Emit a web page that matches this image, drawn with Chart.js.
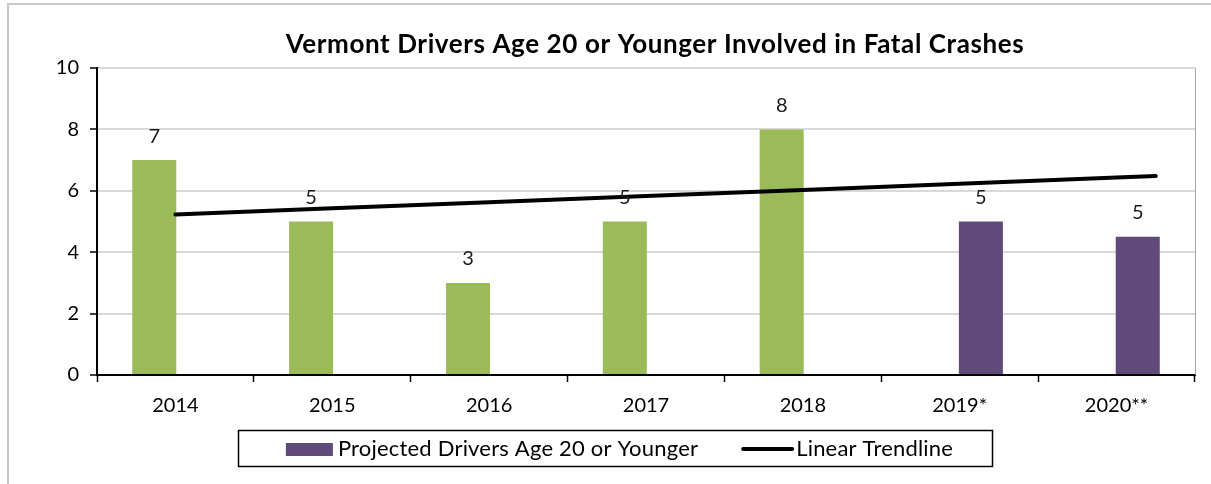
<!DOCTYPE html>
<html>
<head>
<meta charset="utf-8">
<script src="https://cdn.jsdelivr.net/npm/chart.js@4/dist/chart.umd.min.js"></script>
<style>
  html, body { margin: 0; padding: 0; background: #fff; }
  #wrap { position: relative; width: 1211px; height: 484px; }
</style>
</head>
<body>
<div id="wrap"><canvas id="fatalChart" width="1211" height="484"></canvas></div>
<script>
// valores
const years = ["2014", "2015", "2016", "2017", "2018", "2019*", "2020**"];
const yearIndex = [0, 1, 2, 3, 4, 5, 6];
const actualDrivers = [7, 5, 3, 5, 8, null, null];
const projectedDrivers = [null, null, null, null, null, 5, 4.5];
const barLabels = ["7", "5", "3", "5", "8", "5", "5"];
// linha de tendência (o Excel a estende um quarto de período após 2020)
const trendX = [0, 1, 2, 3, 4, 5, 6, 6.25];
const trendline = [5.23, 5.43, 5.63, 5.83, 6.03, 6.23, 6.43, 6.48];
const yTicks = [0, 2, 4, 6, 8, 10];

const chartTitle = "Vermont Drivers Age 20 or Younger Involved in Fatal Crashes";
const legendBar = "Projected Drivers Age 20 or Younger";
const legendLine = "Linear Trendline";
const fontFamily = "Lato, 'Open Sans', sans-serif";

const decorPlugin = {
    id: "decor",
    beforeDraw(chart) {
        const c = chart.ctx;
        c.save();
        c.strokeStyle = "#c8c8c8";
        c.lineWidth = 2;
        c.beginPath();
        c.moveTo(8, 484);
        c.lineTo(8, 4);
        c.lineTo(1211, 4);
        c.stroke();
        c.restore();
    },
    afterDatasetsDraw(chart) {
        const c = chart.ctx;
        const area = chart.chartArea;
        c.save();
        // borda direita da área de plotagem
        c.strokeStyle = "#a6a6a6";
        c.lineWidth = 1;
        c.beginPath();
        c.moveTo(Math.round(area.right) + 0.5, area.top);
        c.lineTo(Math.round(area.right) + 0.5, area.bottom);
        c.stroke();

        // rótulos das barras
        c.font = "20px " + fontFamily;
        c.fillStyle = "#1a1a1a";
        c.textAlign = "center";
        c.textBaseline = "middle";
        [0, 1].forEach(dsIndex => {
            const meta = chart.getDatasetMeta(dsIndex);
            meta.data.forEach((bar, i) => {
                const v = chart.data.datasets[dsIndex].data[i].y;
                if (v === null || v === undefined) return;
                c.fillText(barLabels[i], bar.x, bar.y - 24);
            });
        });

        // título
        c.font = "bold 26px " + fontFamily;
        c.letterSpacing = "0.6px";
        c.fillStyle = "#000";
        c.fillText(chartTitle, (area.left + area.right) / 2 + 9, 45);

        // legenda
        c.font = "22px " + fontFamily;
        c.letterSpacing = "0.2px";
        c.textAlign = "left";
        const w1 = c.measureText(legendBar).width;
        const w2 = c.measureText(legendLine).width;
        const total = 47 + 5 + w1 + 45 + 49 + 4 + w2;
        let x = 615 - (48 + total + 39) / 2 + 48;
        const cy = 449;
        c.strokeStyle = "#000";
        c.lineWidth = 1.5;
        c.strokeRect(Math.round(x - 48) + 0.5, 430.5, Math.round(total + 87), 36);
        c.fillStyle = chart.data.datasets[1].backgroundColor;
        c.fillRect(x, cy - 6, 47, 13);
        x += 52;
        c.fillStyle = "#000";
        c.fillText(legendBar, x, cy);
        x += w1 + 45;
        c.lineWidth = 4;
        c.lineCap = "round";
        c.beginPath();
        c.moveTo(x, cy);
        c.lineTo(x + 49, cy);
        c.stroke();
        x += 53;
        c.fillText(legendLine, x, cy);
        c.restore();
    }
};

const ctx = document.getElementById("fatalChart").getContext("2d");

new Chart(ctx, {
    type: "bar",
    data: {
        datasets: [
            {
                label: "Drivers Age 20 or Younger",
                data: yearIndex.map(i => ({ x: i, y: actualDrivers[i] })),
                backgroundColor: "#9BBB59",
                categoryPercentage: 0.54,
                barPercentage: 1.04,
                order: 2
            },
            {
                label: legendBar,
                data: yearIndex.map(i => ({ x: i, y: projectedDrivers[i] })),
                backgroundColor: "#604A7B",
                categoryPercentage: 0.54,
                barPercentage: 1.04,
                order: 2
            },
            {
                type: "line",
                label: legendLine,
                data: trendX.map((x, i) => ({ x: x, y: trendline[i] })),
                borderColor: "#000",
                backgroundColor: "#000",
                borderWidth: 4,
                borderCapStyle: "round",
                pointRadius: 0,
                tension: 0,
                order: 1
            }
        ]
    },
    options: {
        responsive: false,
        animation: false,
        layout: { padding: { left: 20, right: 16, top: 68, bottom: 54 } },
        plugins: {
            title: { display: false },
            tooltip: { enabled: false },
            legend: { display: false }
        },
        scales: {
            x: {
                type: "linear",
                offset: false,
                min: -0.5,
                max: 6.5,
                afterBuildTicks(scale) {
                    scale.ticks = yearIndex.map(v => ({ value: v }));
                },
                grid: {
                    offset: true,
                    drawOnChartArea: false,
                    color: "#000",
                    tickLength: 7,
                    tickWidth: 1.5
                },
                border: { color: "#000", width: 2 },
                ticks: {
                    color: "#000",
                    font: { family: fontFamily, size: 20 },
                    padding: 12,
                    maxRotation: 0,
                    autoSkip: false,
                    callback: v => years[v]
                }
            },
            y: {
                min: 0,
                max: 10,
                afterBuildTicks(scale) {
                    scale.ticks = yTicks.map(v => ({ value: v }));
                },
                afterFit(scale) {
                    scale.width = 77;
                },
                grid: {
                    color: "#d9d9d9",
                    lineWidth: 2,
                    tickColor: "#000",
                    tickLength: 7,
                    tickWidth: 1.5
                },
                border: { color: "#000", width: 2 },
                ticks: {
                    color: "#000",
                    font: { family: fontFamily, size: 20 },
                    padding: 11
                }
            }
        }
    },
    plugins: [decorPlugin]
});
</script>
</body>
</html>
